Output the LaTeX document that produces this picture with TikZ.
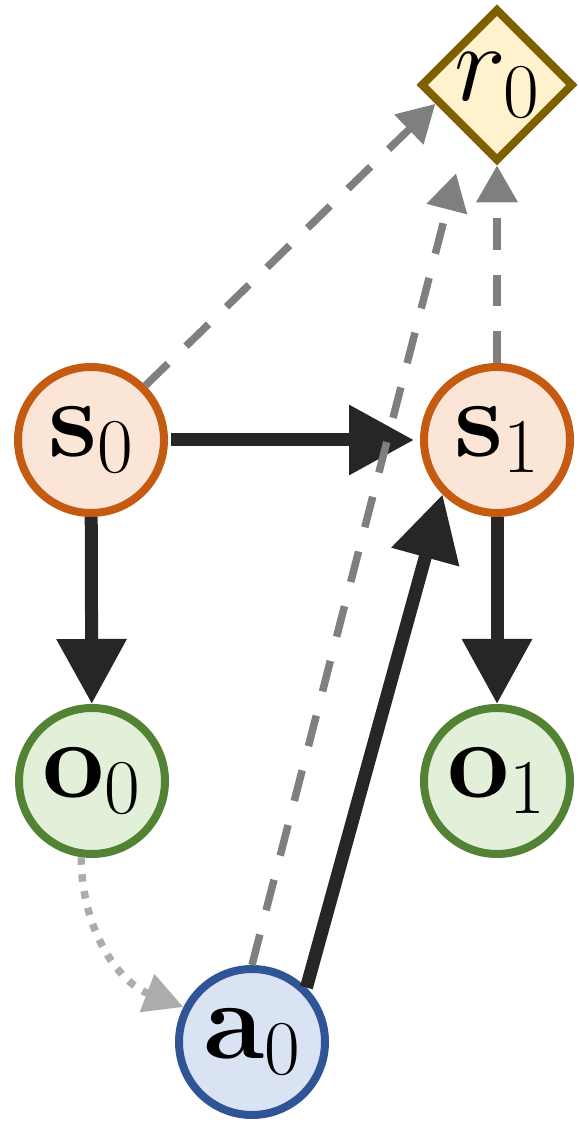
\RequirePackage{fix-cm}
\documentclass[tikz,border=0pt]{standalone}
\usepackage{amsmath,amssymb}
\usepackage{xcolor}
\usepackage{tikz}
\usetikzlibrary{arrows.meta,positioning,shapes.geometric,calc}
\definecolor{stateorange}{HTML}{C55A11}
\definecolor{obsgreen}{HTML}{548235}
\definecolor{actblue}{HTML}{2F5597}
\definecolor{rewardgold}{HTML}{7F6000}
\definecolor{softorange}{HTML}{FBE5D6}
\definecolor{softgreen}{HTML}{E2F0D9}
\definecolor{softblue}{HTML}{DAE3F3}
\definecolor{softgold}{HTML}{FFF2CC}
\definecolor{edgeblack}{HTML}{262626}
\definecolor{edgegray}{HTML}{7F7F7F}
\definecolor{dotgray}{HTML}{AEABAB}
\tikzset{
  varnode/.style={circle, line width=1.6mm, minimum size=29.2mm, inner sep=0pt, font=\fontsize{63}{65}\selectfont},
  statenode/.style={varnode, draw=stateorange, fill=softorange},
  obsnode/.style={varnode, draw=obsgreen, fill=softgreen},
  actnode/.style={varnode, draw=actblue, fill=softblue},
  rewardnode/.style={diamond, aspect=1, draw=rewardgold, fill=softgold, line width=1.6mm, minimum size=30.6mm, inner sep=0pt, font=\fontsize{63}{65}\selectfont},
  edge/.style={-{Triangle[length=13mm,width=13.4mm]}, line width=2.6mm, draw=edgeblack},
  dashededge/.style={-{Triangle[length=7.4mm,width=8mm]}, line width=1.5mm, draw=edgegray, dash pattern=on 6.3mm off 5mm},
  dottededge/.style={-{Triangle[length=7.8mm,width=7.8mm]}, line width=1.5mm, draw=dotgray, dash pattern=on 1.5mm off 1.9mm}
}
\begin{document}
\begin{tikzpicture}[x=0.2mm,y=0.2mm]
  \useasboundingbox (0,0) rectangle (578,1122);
  \node[statenode] (s0) at (91,682) {$\mathbf{s}_0$};
  \node[statenode] (s1) at (497,682) {$\mathbf{s}_1$};
  \node[obsnode] (o0) at (92,341) {$\mathbf{o}_0$};
  \node[obsnode] (o1) at (497,341) {$\mathbf{o}_1$};
  \node[actnode] (a0) at (252,80) {$\mathbf{a}_0$};
  \node[rewardnode] (r0) at (497,1037) {$r_0$};
  \draw[edge, shorten <=0.6mm, shorten >=1.2mm] (s0) -- (s1);
  \draw[edge] (s0) -- (o0);
  \draw[edge] (s1) -- (o1);
  \draw[edge] (a0.45) -- (s1.225);
  \draw[dashededge] (s0.45) -- (r0.197);
  \draw[dashededge, shorten >=8mm] (a0.north) -- (r0.238);
  \draw[dashededge] (s1) -- (r0);
  \draw[dottededge] (o0.-98) to[out=-90,in=159] (a0.153);
\end{tikzpicture}
\end{document}
